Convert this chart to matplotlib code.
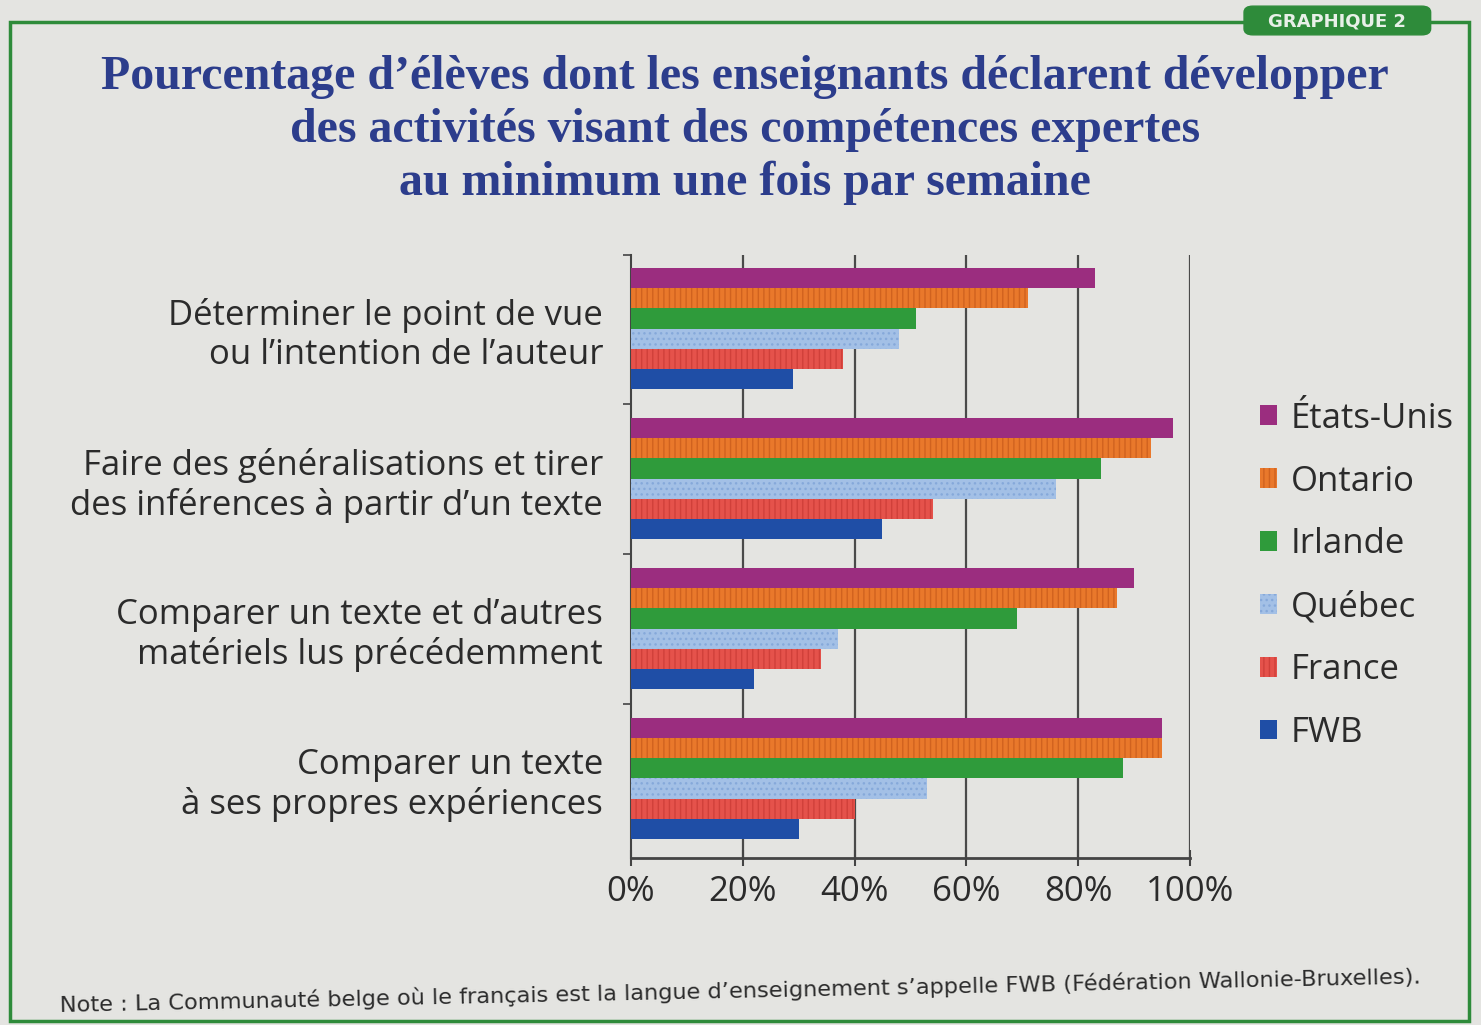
import numpy as np
import matplotlib.pyplot as plt
from matplotlib.patches import FancyBboxPatch, Rectangle

# data (percentages)
categories = ["Déterminer le point de vue\nou l’intention de l’auteur",
              "Faire des généralisations et tirer\ndes inférences à partir d’un texte",
              "Comparer un texte et d’autres\nmatériels lus précédemment",
              "Comparer un texte\nà ses propres expériences"]
series = ["États-Unis", "Ontario", "Irlande", "Québec", "France", "FWB"]
etats_unis = [83, 97, 90, 95]
ontario = [71, 93, 87, 95]
irlande = [51, 84, 69, 88]
quebec = [48, 76, 37, 53]
france = [38, 54, 34, 40]
fwb = [29, 45, 22, 30]
tick_values = [0, 20, 40, 60, 80, 100]

values = [etats_unis, ontario, irlande, quebec, france, fwb]
colors = ["#9b2d7f", "#e9782b", "#2f9b3b", "#a3c0e6", "#e5524b", "#1f4ea6"]
hatch_cols = ["#9b2d7f", "#d0621f", "#2f9b3b", "#86a9da", "#d0403a", "#2a5cb8"]
hatches = [None, "|||", None, "...", "|||", None]

bg = "#e4e4e1"
text_col = "#2b2b2b"
title_col = "#2c3d8c"
green = "#2e8b3a"

fig = plt.figure(figsize=(14.81, 10.25), dpi=100, facecolor=bg)

# green frame around the panel
fig.patches.append(Rectangle((0.007, 0.004), 0.985, 0.975, transform=fig.transFigure,
                             fill=False, edgecolor=green, lw=2.5))
# "GRAPHIQUE 2" tab
fig.patches.append(FancyBboxPatch((0.842, 0.968), 0.122, 0.024,
                                  boxstyle="round,pad=0.002,rounding_size=0.006",
                                  transform=fig.transFigure, facecolor=green,
                                  edgecolor=green))
fig.text(0.903, 0.979, "GRAPHIQUE 2", color="#e8f0e8", fontsize=13,
         fontweight="bold", ha="center", va="center", family="DejaVu Sans")

fig.text(0.503, 0.873,
         "Pourcentage d’élèves dont les enseignants déclarent développer\n"
         "des activités visant des compétences expertes\n"
         "au minimum une fois par semaine",
         ha="center", va="center", color=title_col, fontsize=34.5,
         fontweight="bold", family="Liberation Serif", linespacing=1.25)

ax = fig.add_axes([0.426, 0.163, 0.3775, 0.588])
ax.set_facecolor(bg)

n = len(series)
h = 0.135
centers = np.arange(len(categories))
for i, (name, vals) in enumerate(zip(series, values)):
    y = centers - 0.405 + h / 2 + i * h
    ax.barh(y, vals, height=h, color=colors[i], edgecolor=hatch_cols[i],
            hatch=hatches[i], lw=0, label=name, zorder=3)

ax.set_xlim(0, 100)
ax.set_ylim(3.53, -0.49)

for v in tick_values[1:]:
    ax.axvline(v, color="#4a4a4a", lw=1.6, zorder=1)

ax.set_xticks(tick_values)
ax.set_xticklabels([f"{v}%" for v in tick_values], fontsize=25, color=text_col,
                   family="Open Sans")
ax.tick_params(axis="x", direction="inout", length=12, width=1.5, color="#444444",
               pad=6)

ax.set_yticks([-0.49, 0.5, 1.5, 2.5])
ax.set_yticklabels([])
ax.tick_params(axis="y", which="major", direction="out", length=6, width=1.2,
               color="#444444")
ax.set_yticks(centers, minor=True)
ax.set_yticklabels(categories, minor=True, fontsize=25, color=text_col,
                   family="Open Sans", linespacing=1.2)
ax.tick_params(axis="y", which="minor", length=0, pad=20)
for lbl in ax.get_yticklabels(minor=True):
    lbl.set_horizontalalignment("right")

for s in ["top", "right"]:
    ax.spines[s].set_visible(False)
ax.spines["left"].set_color("#444444")
ax.spines["left"].set_linewidth(1.5)
ax.spines["bottom"].set_color("#444444")
ax.spines["bottom"].set_linewidth(2)

leg = ax.legend(loc="upper left", bbox_to_anchor=(1.10, 0.78), frameon=False,
                fontsize=25, handlelength=0.5, handleheight=0.5,
                labelspacing=0.83, handletextpad=0.4, borderaxespad=0)
for t in leg.get_texts():
    t.set_color(text_col)
    t.set_family("Open Sans")

fig.text(0.04, 0.033,
         "Note : La Communauté belge où le français est la langue d’enseignement "
         "s’appelle FWB (Fédération Wallonie-Bruxelles).",
         ha="left", va="center", fontsize=16.2, color=text_col,
         family=["Liberation Sans Narrow", "DejaVu Sans"], rotation=1.2)

fig.savefig("out.png", dpi=100, facecolor=bg)
